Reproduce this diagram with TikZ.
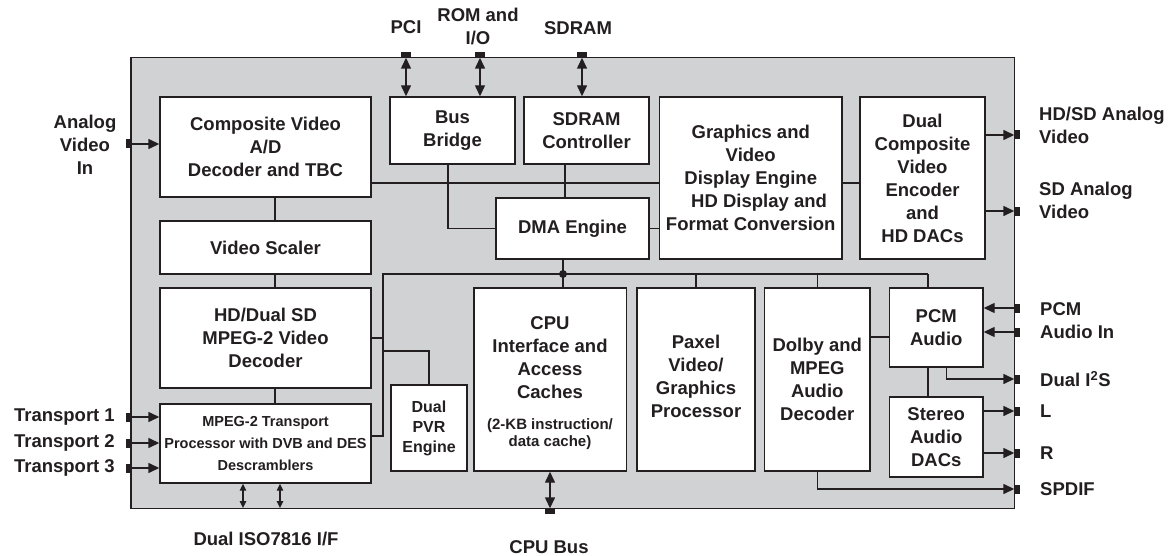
\documentclass[tikz,border=0pt]{standalone}
\usepackage{fontspec}
\setmainfont{Liberation Sans}
\usetikzlibrary{arrows.meta}
\definecolor{chipgray}{HTML}{D1D2D4}
\definecolor{ink}{HTML}{231F20}
\begin{document}
\begin{tikzpicture}[x=1pt,y=-1pt,
  box/.style={draw=ink, line width=1.4pt, fill=white, inner sep=0pt, align=center, text=ink,
    font=\bfseries\fontsize{18.5}{23}\selectfont},
  lbl/.style={text=ink, font=\bfseries\fontsize{18.5}{23}\selectfont, inner sep=0pt},
  wire/.style={draw=ink, line width=1.4pt},
  arr/.style={wire, -{Triangle[length=11pt,width=10pt]}},
  darr/.style={wire, {Triangle[length=11pt,width=10pt]}-{Triangle[length=11pt,width=10pt]}},
  sarr/.style={wire, line width=1.1pt, {Triangle[length=7pt,width=6.5pt]}-{Triangle[length=7pt,width=6.5pt]}},
  pinv/.style={fill=ink, minimum width=5pt, minimum height=9pt, inner sep=0pt},
  pinh/.style={fill=ink, minimum width=10pt, minimum height=5pt, inner sep=0pt},
]
\useasboundingbox (0,0) rectangle (1174,556);
\fill[white] (0,0) rectangle (1174,556);

% chip outline
\node[draw=ink, fill=chipgray, line width=1.4pt, minimum width=883.5pt, minimum height=451pt, inner sep=0pt] (chip) at (572.75,283) {};

% blocks
\node[box, minimum width=211pt, minimum height=100pt] (comp) at (265.5,147) {Composite Video\\A/D\\Decoder and TBC};
\node[box, minimum width=125pt, minimum height=67pt] (bus) at (452.5,130.5) {Bus\\Bridge};
\node[box, minimum width=125pt, minimum height=67pt] (sdc) at (586.5,130.5) {SDRAM\\Controller};
\node[box, minimum width=153pt, minimum height=61pt] (dma) at (572.5,228.5) {DMA Engine};
\node[box, minimum width=182.5pt, minimum height=162pt] (gfx) at (750.75,178) {Graphics and\\Video\\Display Engine\\\hspace*{0.9em}HD Display and\\Format Conversion};
\node[box, minimum width=125pt, minimum height=162pt] (enc) at (922.5,178) {Dual\\Composite\\Video\\Encoder\\and\\HD DACs};
\node[box, minimum width=211pt, minimum height=53pt] (scl) at (265.5,247.5) {Video Scaler};
\node[box, minimum width=211pt, minimum height=100pt] (mpg) at (265.5,338) {HD/Dual SD\\MPEG-2 Video\\Decoder};
\node[box, minimum width=211pt, minimum height=79pt, font=\bfseries\fontsize{14.5}{22}\selectfont] (tsp) at (265.5,443.5) {MPEG-2 Transport\\Processor with DVB and DES\\Descramblers};
\node[box, minimum width=76pt, minimum height=86pt, font=\bfseries\fontsize{16}{20}\selectfont] (pvr) at (429,428) {Dual\\PVR\\Engine};
\node[box, minimum width=152.6pt, minimum height=183pt] (cpu) at (550.3,379.5) {};
\node[lbl, align=center] (cputxt) at (550,358) {CPU\\Interface and\\Access\\Caches};
\node[lbl, align=center, font=\bfseries\fontsize{15}{17}\selectfont] (cpusub) at (550,434) {(2-KB instruction/\\data cache)};
\node[box, minimum width=118pt, minimum height=183pt] (pax) at (696,379.5) {};
\node[lbl, align=center] (paxtxt) at (696,376) {Paxel\\Video/\\Graphics\\Processor};
\node[box, minimum width=105.5pt, minimum height=183pt] (dol) at (817.25,379.5) {Dolby and\\MPEG\\Audio\\Decoder};
\node[box, minimum width=93.5pt, minimum height=79pt] (pcm) at (936.25,327.5) {PCM\\Audio};
\node[box, minimum width=93.5pt, minimum height=80pt] (dac) at (936.25,437) {Stereo\\Audio\\DACs};

% helper coordinates
\coordinate (xv) at (275,0);
\coordinate (y183) at (0,183);
\coordinate (xbb) at (448,0);
\coordinate (xsd) at (565,0);
\coordinate (busL) at (383,274);
\coordinate (busR) at (928,274);
\coordinate (dot) at (563,274);
\coordinate (y436) at (0,436);
\coordinate (y351) at (0,351);
\coordinate (y337) at (0,337);
\coordinate (i2sx) at (946.7,0);
\coordinate (iso1) at (243,508);
\coordinate (iso2) at (280,508);

% internal wires
\draw[wire] (xv |- comp.south) -- (xv |- scl.north);
\draw[wire] (xv |- scl.south) -- (xv |- mpg.north);
\draw[wire] (xv |- mpg.south) -- (xv |- tsp.north);
\draw[wire] (comp.east |- y183) -- (gfx.west |- y183);
\draw[wire] (xbb |- bus.south) |- (dma.west);
\draw[wire] (xsd |- sdc.south) -- (xsd |- dma.north);
\draw[wire] (dma.east) -- (dma.east -| gfx.west);
\draw[wire] (gfx.east |- y183) -- (enc.west |- y183);
\draw[wire] (busR) -- (busL) |- (tsp.east |- y436);
\draw[wire] (busL |- mpg.east) -- (mpg.east);
\draw[wire] (busL |- y351) -| (pvr.north);
\draw[wire] (dot |- dma.south) -- (dot |- cpu.north);
\fill[ink] (dot) circle (4pt);
\draw[wire] (pax.north |- busL) -- (pax.north);
\draw[wire] (dol.north |- busL) -- (dol.north);
\draw[wire] (busR) -- (busR |- pcm.north);
\draw[wire] (dol.east |- y337) -- (pcm.west |- y337);
\draw[wire] (busR |- pcm.south) -- (busR |- dac.north);

% pins
\node[pinh] (pPCI) at (406,55) {};
\node[pinh] (pROM) at (480,55) {};
\node[pinh] (pSDR) at (582,55) {};
\node[pinv] (pAV) at (128.5,144) {};
\node[pinv] (pT1) at (128.5,417) {};
\node[pinv] (pT2) at (128.5,443) {};
\node[pinv] (pT3) at (128.5,468) {};
\node[pinv] (pHD) at (1017,135) {};
\node[pinv] (pSD) at (1017,211) {};
\node[pinv] (pP1) at (1017,308) {};
\node[pinv] (pP2) at (1017,332) {};
\node[pinv] (pI2S) at (1017,379) {};
\node[pinv] (pL) at (1017,411) {};
\node[pinv] (pR) at (1017,453) {};
\node[pinv] (pSP) at (1017,489) {};
\node[pinh] (pCB) at (550,511) {};

% external connections
\draw[darr] (pPCI.south) -- (pPCI.south |- bus.north);
\draw[darr] (pROM.south) -- (pROM.south |- bus.north);
\draw[darr] (pSDR.south) -- (pSDR.south |- sdc.north);
\draw[arr] (pAV.east) -- (pAV.east -| comp.west);
\draw[arr] (pT1.east) -- (pT1.east -| tsp.west);
\draw[arr] (pT2.east) -- (pT2.east -| tsp.west);
\draw[arr] (pT3.east) -- (pT3.east -| tsp.west);
\draw[arr] (enc.east |- pHD) -- (pHD.west);
\draw[arr] (enc.east |- pSD) -- (pSD.west);
\draw[arr] (pP1.west) -- (pP1.west -| pcm.east);
\draw[arr] (pP2.west) -- (pP2.west -| pcm.east);
\draw[arr] (i2sx |- pcm.south) |- (pI2S.west);
\draw[arr] (dac.east |- pL) -- (pL.west);
\draw[arr] (dac.east |- pR) -- (pR.west);
\draw[arr] (dol.south) |- (pSP.west);
\draw[darr] (pCB.north |- cpu.south) -- (pCB.north);
\draw[sarr] (tsp.south -| iso1) -- (iso1);
\draw[sarr] (tsp.south -| iso2) -- (iso2);

% labels
\node[lbl] (lPCI) at (406,27) {PCI};
\node[lbl, align=center] (lROM) at (478,26) {ROM and\\I/O};
\node[lbl] (lSDR) at (578,28) {SDRAM};
\node[lbl, align=center] (lAV) at (85,145) {Analog\\Video\\In};
\node[lbl, anchor=east] (lT1) at (115,417) {Transport 1};
\node[lbl, anchor=east] (lT2) at (115,443) {Transport 2};
\node[lbl, anchor=east] (lT3) at (115,468) {Transport 3};
\node[lbl, anchor=west, align=left] (lHD) at (1039,125) {HD/SD Analog\\Video};
\node[lbl, anchor=west, align=left] (lSD) at (1039,200.5) {SD Analog\\Video};
\node[lbl, anchor=west, align=left] (lPCM) at (1040,321) {PCM\\Audio In};
\node[lbl, anchor=west] (lI2S) at (1040,379) {Dual I\textsuperscript{2}S};
\node[lbl, anchor=west] (lL) at (1040,411) {L};
\node[lbl, anchor=west] (lR) at (1040,453) {R};
\node[lbl, anchor=west] (lSP) at (1040,489) {SPDIF};
\node[lbl] (lISO) at (266,539) {Dual ISO7816 I/F};
\node[lbl] (lCB) at (549,547) {CPU Bus};
\end{tikzpicture}
\end{document}
